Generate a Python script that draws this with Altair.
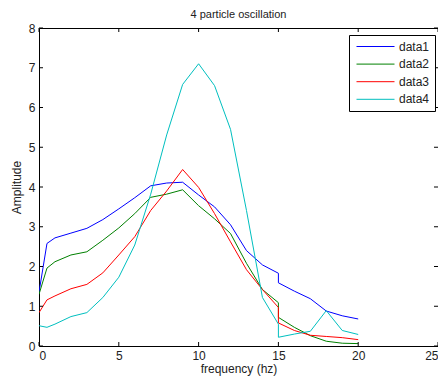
import altair as alt
import pandas as pd

freq = [0, 0.5, 1, 2, 3, 4, 5, 6, 7, 8, 9, 10, 11, 12, 13, 14, 15, 15, 16, 17, 18, 19, 20]
data1 = [1.35, 2.58, 2.72, 2.84, 2.96, 3.18, 3.45, 3.73, 4.03, 4.10, 4.12, 3.80, 3.50, 3.05, 2.40, 2.04, 1.83, 1.59, 1.38, 1.19, 0.88, 0.76, 0.68]
data2 = [1.30, 1.96, 2.12, 2.29, 2.37, 2.66, 2.97, 3.33, 3.74, 3.82, 3.93, 3.53, 3.20, 2.83, 2.08, 1.42, 1.09, 0.72, 0.47, 0.26, 0.12, 0.07, 0.06]
data3 = [0.84, 1.16, 1.26, 1.44, 1.55, 1.84, 2.29, 2.75, 3.41, 3.90, 4.44, 3.99, 3.33, 2.62, 1.92, 1.42, 0.97, 0.58, 0.39, 0.27, 0.24, 0.21, 0.16]
data4 = [0.51, 0.47, 0.55, 0.74, 0.84, 1.22, 1.73, 2.54, 3.82, 5.31, 6.58, 7.10, 6.55, 5.45, 3.41, 1.22, 0.55, 0.22, 0.30, 0.37, 0.89, 0.39, 0.29]
series_names = ["data1", "data2", "data3", "data4"]
series_colors = ["#0000ff", "#008000", "#ff0000", "#00bfbf"]
x_ticks = [0, 5, 10, 15, 20, 25]
y_ticks = [0, 1, 2, 3, 4, 5, 6, 7, 8]

CW, CH = 430, 368          # whole canvas
PL, PT = 31, 20            # left / top padding
W, H = CW - PL, 318
FONT = "Liberation Sans"

rows = []
for name, vals in zip(series_names, [data1, data2, data3, data4]):
    for i, (f, v) in enumerate(zip(freq, vals)):
        rows.append({"series": name, "freq": f, "amp": v, "idx": i})
df = pd.DataFrame(rows)

xscale = alt.Scale(domain=[0, 25], nice=False, zero=False)
yscale = alt.Scale(domain=[0, 8], nice=False, zero=False)
xaxis = alt.Axis(values=x_ticks, title="frequency (hz)", format="d")
yaxis = alt.Axis(values=y_ticks, title="Amplitude", format="d")

lines = alt.Chart(df).mark_line(strokeWidth=1, clip=True).encode(
    x=alt.X("freq:Q", scale=xscale, axis=xaxis),
    y=alt.Y("amp:Q", scale=yscale, axis=yaxis),
    color=alt.Color("series:N",
                    scale=alt.Scale(domain=series_names, range=series_colors),
                    legend=alt.Legend(title=None, orient="none",
                                      legendX=W - 89, legendY=7,
                                      symbolType="stroke", symbolSize=1444,
                                      symbolStrokeWidth=1, symbolOffset=2,
                                      clipHeight=13, rowPadding=4.6,
                                      labelFontSize=12, labelFont=FONT,
                                      labelColor="#222", labelOffset=4,
                                      strokeColor="black", fillColor="white",
                                      padding=5)),
    order="idx:Q",
)

xt = pd.DataFrame({"v": x_ticks})
yt = pd.DataFrame({"v": y_ticks})
TL = 4
tick_bottom = alt.Chart(xt).mark_rule(color="black", strokeWidth=1).encode(
    x=alt.X("v:Q", scale=xscale, axis=xaxis), y=alt.value(H), y2=alt.value(H - TL))
tick_top = alt.Chart(xt).mark_rule(color="black", strokeWidth=1).encode(
    x=alt.X("v:Q", scale=xscale, axis=xaxis), y=alt.value(0), y2=alt.value(TL))
tick_left = alt.Chart(yt).mark_rule(color="black", strokeWidth=1).encode(
    y=alt.Y("v:Q", scale=yscale, axis=yaxis), x=alt.value(0), x2=alt.value(TL))
tick_right = alt.Chart(yt).mark_rule(color="black", strokeWidth=1).encode(
    y=alt.Y("v:Q", scale=yscale, axis=yaxis), x=alt.value(W), x2=alt.value(W - TL))

chart = alt.layer(lines, tick_bottom, tick_top, tick_left, tick_right).properties(
    width=W, height=H,
    title=alt.TitleParams("4 particle oscillation", fontSize=11, fontWeight="normal",
                          font=FONT, color="#222", offset=2),
    autosize=alt.AutoSizeParams(type="none"),
    padding={"left": PL, "top": PT, "right": 0, "bottom": CH - PT - H},
).configure_view(stroke="black", strokeWidth=1).configure_axis(
    grid=False, domain=False, ticks=False, labelFont=FONT, labelFontSize=12,
    labelColor="#222", titleFont=FONT, titleFontSize=12, titleFontWeight="normal",
    titleColor="#222", labelPadding=4, labelOverlap=False,
).configure_axisLeft(titlePadding=5).configure_axisBottom(titlePadding=2)

chart.save("out.html", embed_options={"renderer": "svg", "actions": False})
